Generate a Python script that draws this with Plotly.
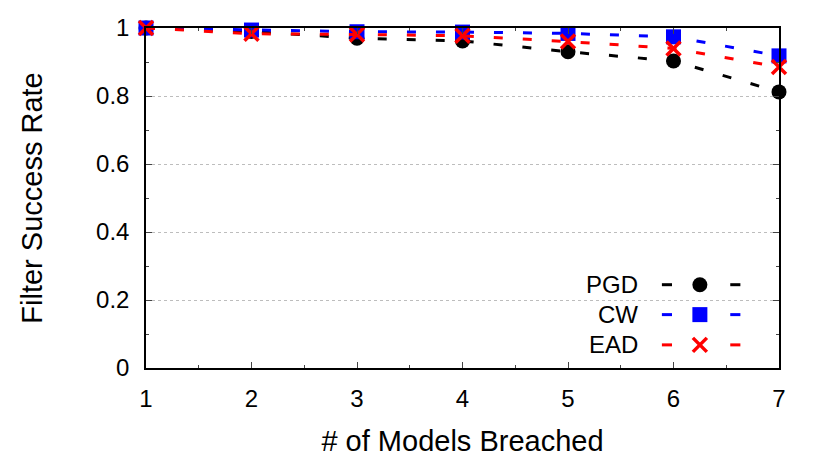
import plotly.graph_objects as go

# Data
models = [1, 2, 3, 4, 5, 6, 7]
pgd = [1.0, 0.99, 0.97, 0.962, 0.93, 0.903, 0.812]
cw = [1.0, 0.994, 0.989, 0.988, 0.984, 0.974, 0.918]
ead = [1.0, 0.983, 0.981, 0.977, 0.96, 0.94, 0.885]
names = ["PGD", "CW", "EAD"]
colors = ["black", "blue", "red"]
symbols = ["circle", "square", "x-thin"]

FONT = "Liberation Sans, Arial, sans-serif"


def make_marker(sym, col):
    if sym == "x-thin":
        return dict(symbol=sym, size=14, color=col, line=dict(color=col, width=3.5))
    return dict(symbol=sym, size=15, color=col, line=dict(width=0))


fig = go.Figure()

for name, vals, col, sym in zip(names, [pgd, cw, ead], colors, symbols):
    fig.add_trace(go.Scatter(x=models, y=vals, mode="lines+markers", name=name,
                             line=dict(color=col, width=3, dash="9px,20px"),
                             marker=make_marker(sym, col), cliponaxis=False, showlegend=False))

# Legend box (hand made, gnuplot style: text on the left, sample on the right)
fig.add_shape(type="rect", xref="paper", yref="paper", x0=0.69, x1=0.965, y0=0.03, y1=0.29,
              fillcolor="white", line=dict(width=0), layer="between")
rows_y = [0.245, 0.157, 0.068]
for name, col, sym, ry in zip(names, colors, symbols, rows_y):
    fig.add_annotation(x=0.78, y=ry, xref="paper", yref="paper", text=name, showarrow=False,
                       xanchor="right", yanchor="middle", font=dict(family=FONT, size=24, color="black"))
    for x0, x1 in [(0.815, 0.831), (0.923, 0.939)]:
        fig.add_shape(type="line", xref="paper", yref="paper", x0=x0, x1=x1, y0=ry, y1=ry,
                      line=dict(color=col, width=3))
    fig.add_trace(go.Scatter(x=[6.25], y=[ry], mode="markers", marker=make_marker(sym, col),
                             showlegend=False, xaxis="x", yaxis="y2", hoverinfo="skip"))

fig.update_layout(
    width=830, height=464,
    margin=dict(l=138, r=59, t=20, b=104),
    plot_bgcolor="white", paper_bgcolor="white",
    font=dict(family=FONT, size=24, color="black"),
    xaxis=dict(range=[1, 7], tickvals=models, ticks="inside", ticklen=6, tickwidth=1,
               showline=True, linecolor="black", linewidth=1.5, mirror="ticks",
               showgrid=False, zeroline=False, ticklabelstandoff=8, automargin=False,
               minor=dict(ticks="inside", dtick=0.5, ticklen=3, showgrid=False),
               title=dict(text="# of Models Breached", standoff=20)),
    yaxis=dict(range=[0, 1], tickvals=[0, 0.2, 0.4, 0.6, 0.8, 1], ticktext=["0", "0.2", "0.4", "0.6", "0.8", "1"],
               ticks="inside", ticklen=6, tickwidth=1,
               showline=True, linecolor="black", linewidth=1.5, mirror="ticks",
               showgrid=True, gridcolor="#bdbdbd", griddash="dot", gridwidth=1, zeroline=False,
               ticklabelstandoff=10, automargin=False,
               minor=dict(ticks="inside", dtick=0.1, ticklen=3, showgrid=False),
               title=dict(text="Filter Success Rate", standoff=45)),
    yaxis2=dict(range=[0, 1], overlaying="y", visible=False),
)

fig.write_html("out.html")
